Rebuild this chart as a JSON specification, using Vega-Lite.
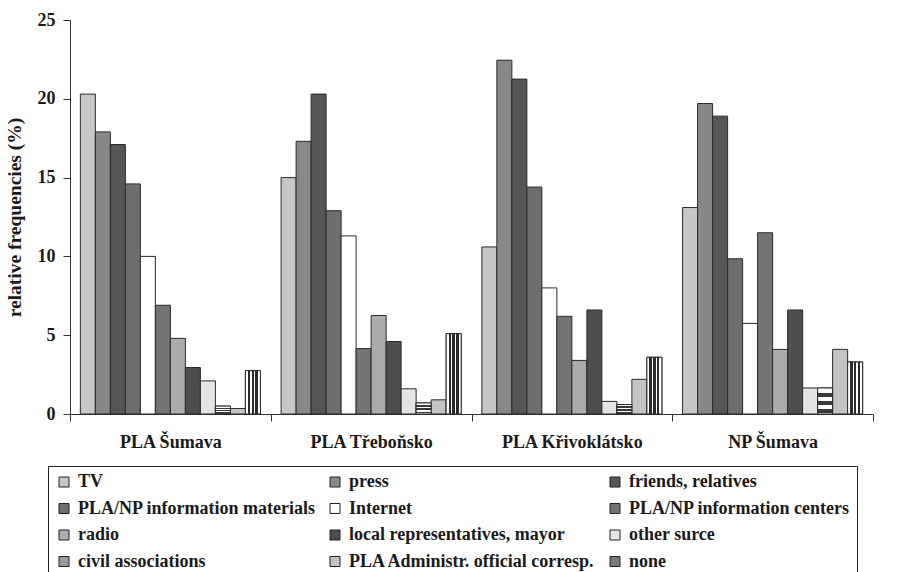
{
  "$schema": "https://vega.github.io/schema/vega-lite/v6.json",
  "width": 803,
  "height": 394,
  "autosize": {"type": "none"},
  "padding": {"left": 70, "top": 20, "right": 35, "bottom": 158},
  "background": "white",
  "data": {
    "values": [
      {"site": "PLA Šumava", "source": "TV", "value": 20.3},
      {"site": "PLA Šumava", "source": "press", "value": 17.9},
      {"site": "PLA Šumava", "source": "friends, relatives", "value": 17.1},
      {"site": "PLA Šumava", "source": "PLA/NP information materials", "value": 14.6},
      {"site": "PLA Šumava", "source": "Internet", "value": 10.0},
      {"site": "PLA Šumava", "source": "PLA/NP information centers", "value": 6.9},
      {"site": "PLA Šumava", "source": "radio", "value": 4.8},
      {"site": "PLA Šumava", "source": "local representatives, mayor", "value": 2.95},
      {"site": "PLA Šumava", "source": "other surce", "value": 2.1},
      {"site": "PLA Šumava", "source": "civil associations", "value": 0.5},
      {"site": "PLA Šumava", "source": "PLA Administr. official corresp.", "value": 0.35},
      {"site": "PLA Šumava", "source": "none", "value": 2.75},
      {"site": "PLA Třeboňsko", "source": "TV", "value": 15.0},
      {"site": "PLA Třeboňsko", "source": "press", "value": 17.3},
      {"site": "PLA Třeboňsko", "source": "friends, relatives", "value": 20.3},
      {"site": "PLA Třeboňsko", "source": "PLA/NP information materials", "value": 12.9},
      {"site": "PLA Třeboňsko", "source": "Internet", "value": 11.3},
      {"site": "PLA Třeboňsko", "source": "PLA/NP information centers", "value": 4.15},
      {"site": "PLA Třeboňsko", "source": "radio", "value": 6.25},
      {"site": "PLA Třeboňsko", "source": "local representatives, mayor", "value": 4.6},
      {"site": "PLA Třeboňsko", "source": "other surce", "value": 1.6},
      {"site": "PLA Třeboňsko", "source": "civil associations", "value": 0.7},
      {"site": "PLA Třeboňsko", "source": "PLA Administr. official corresp.", "value": 0.9},
      {"site": "PLA Třeboňsko", "source": "none", "value": 5.1},
      {"site": "PLA Křivoklátsko", "source": "TV", "value": 10.6},
      {"site": "PLA Křivoklátsko", "source": "press", "value": 22.45},
      {"site": "PLA Křivoklátsko", "source": "friends, relatives", "value": 21.25},
      {"site": "PLA Křivoklátsko", "source": "PLA/NP information materials", "value": 14.4},
      {"site": "PLA Křivoklátsko", "source": "Internet", "value": 8.0},
      {"site": "PLA Křivoklátsko", "source": "PLA/NP information centers", "value": 6.2},
      {"site": "PLA Křivoklátsko", "source": "radio", "value": 3.4},
      {"site": "PLA Křivoklátsko", "source": "local representatives, mayor", "value": 6.6},
      {"site": "PLA Křivoklátsko", "source": "other surce", "value": 0.8},
      {"site": "PLA Křivoklátsko", "source": "civil associations", "value": 0.6},
      {"site": "PLA Křivoklátsko", "source": "PLA Administr. official corresp.", "value": 2.2},
      {"site": "PLA Křivoklátsko", "source": "none", "value": 3.6},
      {"site": "NP Šumava", "source": "TV", "value": 13.1},
      {"site": "NP Šumava", "source": "press", "value": 19.7},
      {"site": "NP Šumava", "source": "friends, relatives", "value": 18.9},
      {"site": "NP Šumava", "source": "PLA/NP information materials", "value": 9.85},
      {"site": "NP Šumava", "source": "Internet", "value": 5.75},
      {"site": "NP Šumava", "source": "PLA/NP information centers", "value": 11.5},
      {"site": "NP Šumava", "source": "radio", "value": 4.1},
      {"site": "NP Šumava", "source": "local representatives, mayor", "value": 6.6},
      {"site": "NP Šumava", "source": "other surce", "value": 1.65},
      {"site": "NP Šumava", "source": "civil associations", "value": 1.65},
      {"site": "NP Šumava", "source": "PLA Administr. official corresp.", "value": 4.1},
      {"site": "NP Šumava", "source": "none", "value": 3.3}
    ]
  },
  "encoding": {
    "x": {
      "field": "site",
      "type": "nominal",
      "sort": ["PLA Šumava", "PLA Třeboňsko", "PLA Křivoklátsko", "NP Šumava"],
      "scale": {"domain": ["PLA Šumava", "PLA Třeboňsko", "PLA Křivoklátsko", "NP Šumava"], "paddingInner": 0, "paddingOuter": 0},
      "axis": {
        "title": null,
        "labelAngle": 0,
        "tickBand": "extent",
        "tickSize": 7,
        "labelPadding": 12,
        "labelFontSize": 18,
        "labelFont": "Liberation Serif",
        "labelFontWeight": "bold",
        "labelColor": "#1a1a1a",
        "domainColor": "#333",
        "tickColor": "#333"
      }
    },
    "xOffset": {
      "field": "source",
      "type": "nominal",
      "scale": {
        "domain": ["TV", "press", "friends, relatives", "PLA/NP information materials", "Internet", "PLA/NP information centers", "radio", "local representatives, mayor", "other surce", "civil associations", "PLA Administr. official corresp.", "none"],
        "paddingInner": 0, "paddingOuter": 0.69
      }
    },
    "y": {
      "field": "value",
      "type": "quantitative",
      "scale": {"domain": [0, 25], "nice": false},
      "axis": {
        "title": "relative frequencies (%)",
        "titleFont": "Liberation Serif",
        "titleFontSize": 19.5,
        "titleFontWeight": "bold",
        "titleColor": "#1a1a1a",
        "titlePadding": 13,
        "values": [0, 5, 10, 15, 20, 25],
        "grid": false,
        "tickSize": 7,
        "labelPadding": 8,
        "labelFontSize": 18,
        "labelFont": "Liberation Serif",
        "labelFontWeight": "bold",
        "labelColor": "#1a1a1a",
        "domainColor": "#333",
        "tickColor": "#333"
      }
    }
  },
  "layer": [
    {
      "mark": {"type": "bar", "stroke": "#2a2a2a", "strokeWidth": 1},
      "encoding": {
        "color": {
          "field": "source",
          "type": "nominal",
          "scale": {
            "domain": ["TV", "press", "friends, relatives", "PLA/NP information materials", "Internet", "PLA/NP information centers", "radio", "local representatives, mayor", "other surce", "civil associations", "PLA Administr. official corresp.", "none"],
            "range": ["#c6c7c9", "#888888", "#555658", "#6e6e6e", "#ffffff", "#747474", "#ababab", "#4e4e4e", "#e4e4e4", "#9a9a9a", "#c4c4c4", "#7a7a7a"]
          },
          "legend": {
            "title": null,
            "orient": "none",
            "legendX": -22,
            "legendY": 446,
            "direction": "horizontal",
            "columns": 3,
            "columnPadding": 10,
            "rowPadding": 8.5,
            "padding": 7,
            "strokeColor": "#222",
            "symbolType": "square",
            "symbolSize": 100,
            "symbolStrokeColor": "#222",
            "symbolStrokeWidth": 1,
            "symbolOpacity": 1,
            "labelFont": "Liberation Serif",
            "labelFontSize": 18,
            "labelFontWeight": "bold",
            "labelColor": "#1a1a1a",
            "labelOffset": 5,
            "labelLimit": 400
          }
        }
      }
    },
    {
      "transform": [{"filter": "datum.source === 'none'"}],
      "mark": {
        "type": "bar", "stroke": "#2a2a2a", "strokeWidth": 1,
        "fill": {"gradient": "linear", "x1": 0, "y1": 0, "x2": 1, "y2": 0, "stops": [
          {"offset": 0, "color": "#ffffff"}, {"offset": 0.17, "color": "#ffffff"},
          {"offset": 0.17, "color": "#2a2a2a"}, {"offset": 0.33, "color": "#2a2a2a"},
          {"offset": 0.33, "color": "#ffffff"}, {"offset": 0.42, "color": "#ffffff"},
          {"offset": 0.42, "color": "#2a2a2a"}, {"offset": 0.58, "color": "#2a2a2a"},
          {"offset": 0.58, "color": "#ffffff"}, {"offset": 0.67, "color": "#ffffff"},
          {"offset": 0.67, "color": "#2a2a2a"}, {"offset": 0.83, "color": "#2a2a2a"},
          {"offset": 0.83, "color": "#ffffff"}, {"offset": 1, "color": "#ffffff"}
        ]}
      }
    },
    {
      "transform": [{"filter": "datum.source === 'civil associations'"}],
      "mark": {
        "type": "bar", "stroke": "#2a2a2a", "strokeWidth": 1,
        "fill": {"gradient": "linear", "x1": 0, "y1": 0, "x2": 0, "y2": 1, "stops": [
          {"offset": 0, "color": "#ffffff"}, {"offset": 0.2, "color": "#ffffff"},
          {"offset": 0.2, "color": "#3a3a3a"}, {"offset": 0.35, "color": "#3a3a3a"},
          {"offset": 0.35, "color": "#ffffff"}, {"offset": 0.5, "color": "#ffffff"},
          {"offset": 0.5, "color": "#3a3a3a"}, {"offset": 0.65, "color": "#3a3a3a"},
          {"offset": 0.65, "color": "#ffffff"}, {"offset": 0.8, "color": "#ffffff"},
          {"offset": 0.8, "color": "#3a3a3a"}, {"offset": 0.95, "color": "#3a3a3a"},
          {"offset": 0.95, "color": "#ffffff"}, {"offset": 1, "color": "#ffffff"}
        ]}
      }
    }
  ],
  "config": {"view": {"stroke": null}}
}
